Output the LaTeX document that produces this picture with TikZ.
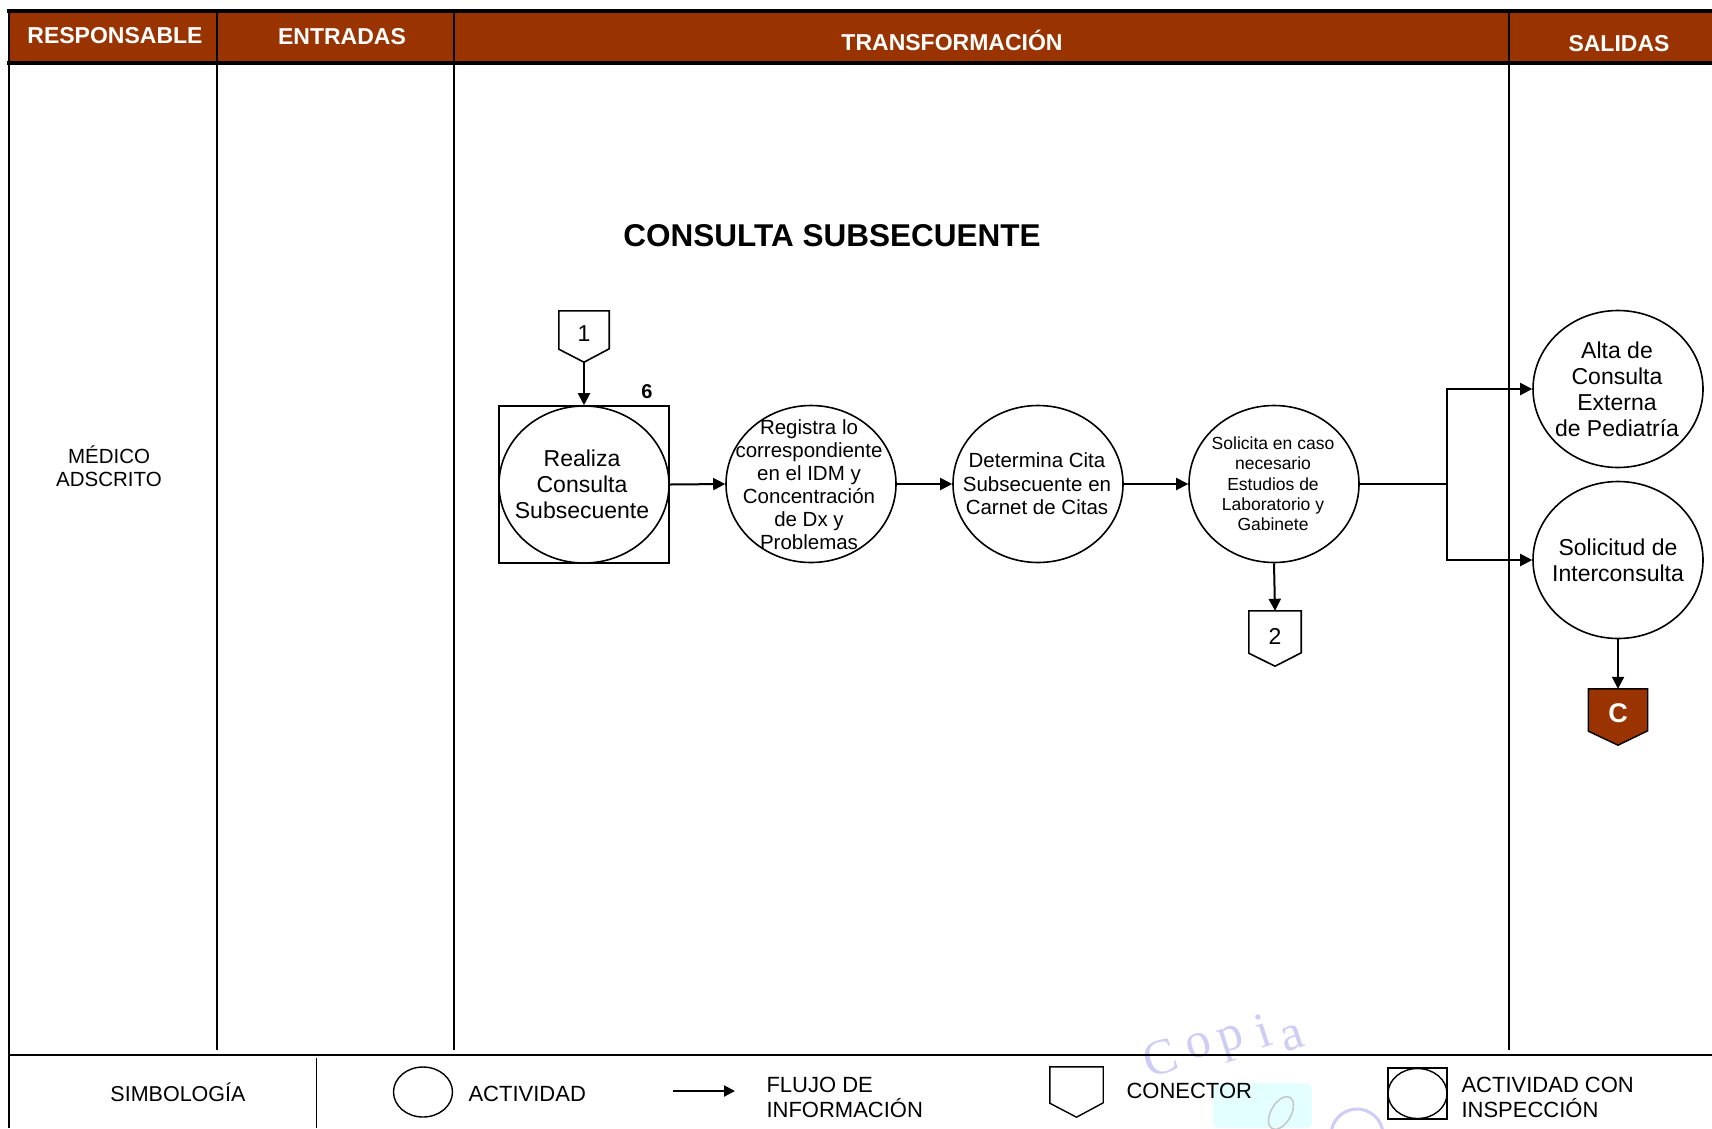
\documentclass[tikz,border=0pt]{standalone}
\usepackage{fontspec}
\setmainfont{Liberation Sans}
\newfontfamily\wmfont{Liberation Serif}
\usetikzlibrary{arrows.meta,shapes.geometric}
\definecolor{hdr}{HTML}{993300}
\definecolor{wm}{RGB}{205,205,245}
\definecolor{wmc}{RGB}{228,255,255}
\begin{document}
\begin{tikzpicture}[x=1pt,y=-1pt,
  lane/.style={line width=2.5pt},
  hdrtxt/.style={text=white,font=\fontsize{23}{25}\selectfont\bfseries},
  act/.style={ellipse,draw,line width=1.6pt,minimum width=170pt,minimum height=157pt,inner sep=0pt},
  acttxt/.style={align=center,inner sep=0pt},
  smallact/.style={ellipse,draw,line width=1.4pt,minimum width=59pt,minimum height=50pt,inner sep=0pt},
  arr/.style={-{Triangle[length=12pt,width=12pt]},line width=2pt},
  conbox/.style={minimum width=50pt,minimum height=51pt,inner sep=0pt},
  contxt/.style={font=\fontsize{23}{26}\selectfont},
  legtxt/.style={font=\fontsize{22}{25}\selectfont,align=left},
  wml/.style={text=wm,rotate=18,inner sep=0pt,font=\wmfont\fontsize{50}{52}\selectfont}
]
\useasboundingbox (0,0) rectangle (1712,1128);
% watermark
\fill[wmc,rounded corners=6pt] (1213,1128) -- (1213,1083) -- (1312,1083) -- (1312,1128) -- cycle;
\draw[gray!45,line width=1.5pt,rotate around={60:(1281,1113)}] (1281,1113) ellipse[x radius=18,y radius=10];
\node[wml] (wm1) at (1160,1058) {C};
\node[wml] (wm2) at (1199,1046) {o};
\node[wml] (wm3) at (1232,1043) {p};
\node[wml] (wm4) at (1263,1031) {i};
\node[wml] (wm5) at (1292,1038) {a};
\draw[wm,line width=3pt] (1357,1135) ++(165:26) arc[start angle=165,end angle=375,radius=26];
% header
\fill[hdr] (9,11) rectangle (1712,63);
\draw[line width=4pt] (7,11) -- (1712,11);
\draw[line width=4pt] (7,63) -- (1712,63);
\draw[lane] (9,9) -- (9,1128);
\foreach \x in {217,454,1509} \draw[lane] (\x,11) -- (\x,1050);
\draw[line width=2pt] (9,1055) -- (1712,1055);
\draw[line width=1pt] (316,1058) -- (316,1128);
\node[hdrtxt] (h1) at (115,36) {RESPONSABLE};
\node[hdrtxt] (h2) at (342,37) {ENTRADAS};
\node[hdrtxt] (h3) at (952,40) {TRANSFORMACIÓN};
\node[hdrtxt] (h4) at (1619,44) {SALIDAS};
% responsible
\node[align=center,font=\fontsize{20.5}{23}\selectfont] (resp) at (109,466) {MÉDICO\\ADSCRITO};
% title
\node[font=\fontsize{31.5}{34}\selectfont\bfseries] (title) at (832,236) {CONSULTA SUBSECUENTE};
% connector 1
\node[conbox] (c1) at (584,336.5) {};
\draw[line width=1.6pt,fill=white] (c1.north west) -- (c1.north east) -- ++(0,38) -- (c1.south) -- ([yshift=13pt]c1.south west) -- cycle;
\node[contxt] (c1t) at (584,334) {1};
% activity 1 with inspection
\node[draw,line width=1.6pt,minimum width=170pt,minimum height=157pt,inner sep=0pt] (b1) at (584,484.5) {};
\node[act] (a1) at (584,484.5) {};
\node[acttxt,font=\fontsize{23}{26}\selectfont] (a1t) at (582,484) {Realiza\\Consulta\\Subsecuente};
\node[font=\fontsize{20}{22}\selectfont\bfseries] (six) at (647,392) {6};
% activity 2
\node[act] (a2) at (811,484) {};
\node[acttxt,font=\fontsize{20.5}{23}\selectfont] (a2t) at (809,485) {Registra lo\\correspondiente\\en el IDM y\\Concentración\\de Dx y\\Problemas};
% activity 3
\node[act] (a3) at (1038,484) {};
\node[acttxt,font=\fontsize{20.5}{23.5}\selectfont] (a3t) at (1037,484) {Determina Cita\\Subsecuente en\\Carnet de Citas};
% activity 4
\node[act] (a4) at (1274,484) {};
\node[acttxt,font=\fontsize{17.5}{20.3}\selectfont] (a4t) at (1273,484) {Solicita en caso\\necesario\\Estudios de\\Laboratorio y\\Gabinete};
% outputs
\node[act] (o1) at (1618,389) {};
\node[acttxt,font=\fontsize{23}{26}\selectfont] (o1t) at (1617,389) {Alta de\\Consulta\\Externa\\de Pediatría};
\node[act] (o2) at (1618,560) {};
\node[acttxt,font=\fontsize{23}{26}\selectfont] (o2t) at (1618,560) {Solicitud de\\Interconsulta};
% connector 2
\node[conbox,minimum width=52pt,minimum height=55pt] (c2) at (1275,638.5) {};
\draw[line width=1.6pt,fill=white] (c2.north west) -- (c2.north east) -- ++(0,42) -- (c2.south) -- ([yshift=13pt]c2.south west) -- cycle;
\node[contxt] (c2t) at (1275,636) {2};
% connector C
\node[conbox,minimum width=59pt,minimum height=56pt] (cc) at (1618,717) {};
\draw[line width=1.4pt,fill=hdr] (cc.north west) -- (cc.north east) -- ++(0,42) -- (cc.south) -- ([yshift=14pt]cc.south west) -- cycle;
\node[text=white,font=\fontsize{27}{30}\selectfont\bfseries] (cct) at (1618,713) {C};
% arrows
\draw[arr] (c1.south) -- (b1.north);
\draw[arr] (b1.east) -- (a2.west);
\draw[arr] (a2.east) -- (a3.west);
\draw[arr] (a3.east) -- (a4.west);
\coordinate (br) at (1447,484);
\draw[line width=2pt] (a4.east) -- (br);
\draw[arr] (br) |- (o1.west);
\draw[arr] (br) |- (o2.west);
\draw[arr] (a4.south) -- (c2.north);
\draw[arr] (o2.south) -- (cc.north);
% legend
\node[font=\fontsize{21.5}{24}\selectfont] (simb) at (178,1092) {SIMBOLOGÍA};
\node[smallact] (la) at (423,1092) {};
\node[legtxt,anchor=west] (lat) at (465,1094) {ACTIVIDAD};
\coordinate (lf1) at (673,1091);
\coordinate (lf2) at (735,1091);
\draw[arr,-{Triangle[length=11pt,width=11pt]}] (lf1) -- (lf2);
\node[legtxt,anchor=west] (lft) at (763,1097) {FLUJO DE\\INFORMACIÓN};
\node[conbox,minimum width=53pt,minimum height=50pt] (lc) at (1076.5,1092) {};
\draw[line width=1.4pt] (lc.north west) -- (lc.north east) -- ++(0,36) -- (lc.south) -- ([yshift=14pt]lc.south west) -- cycle;
\node[legtxt,anchor=west] (lct) at (1123,1091) {CONECTOR};
\node[draw,line width=1.8pt,minimum width=59pt,minimum height=51pt,inner sep=0pt] (li) at (1417.5,1093.5) {};
\node[smallact] (lia) at (1417.5,1093.5) {};
\node[legtxt,anchor=west] (lit) at (1458,1097) {ACTIVIDAD CON\\INSPECCIÓN};
\end{tikzpicture}
\end{document}
